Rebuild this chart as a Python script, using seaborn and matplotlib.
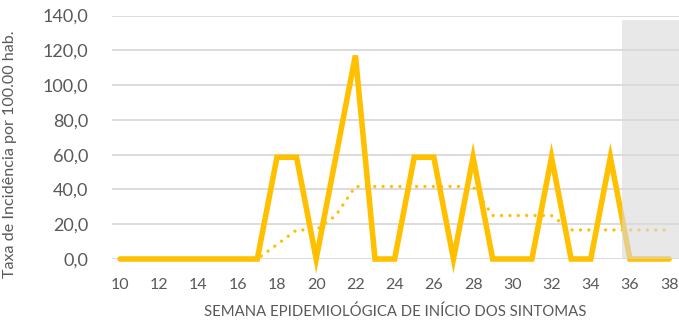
import matplotlib
matplotlib.use("Agg")
import matplotlib.pyplot as plt
import matplotlib.ticker as mticker
import pandas as pd
import seaborn as sns

# Incidence rate per epidemiological week of symptom onset
semanas = list(range(10, 39))
taxa = [0, 0, 0, 0, 0, 0, 0, 0,          # 10-17
        58.5, 58.5, 0, 58.5, 117.0,       # 18-22
        0, 0, 58.5, 58.5, 0, 58.5,        # 23-28
        0, 0, 0, 58.5, 0, 0, 58.5,        # 29-35
        0, 0, 0]                          # 36-38
# Trend series (dotted)
tendencia = [0, 0, 0, 0, 0, 0, 0, 0,
             8.3, 16.7, 16.7, 25.0, 41.7,
             41.7, 41.7, 41.7, 41.7, 41.7, 41.7,
             25.0, 25.0, 25.0, 25.0, 16.7, 16.7, 16.7,
             16.7, 16.7, 16.7]
yticks = [0, 20, 40, 60, 80, 100, 120, 140]
xticks = list(range(10, 39, 2))

df = pd.DataFrame({"semana": semanas, "taxa": taxa, "tendencia": tendencia})

sns.set_theme(style="white")
plt.rcParams["font.family"] = ["Lato", "DejaVu Sans"]

fig = plt.figure(figsize=(6.79, 3.25), dpi=100)
ax = fig.add_axes([112 / 679, 1 - 259 / 325, (679 - 112) / 679, (259 - 15.5) / 325])

amarelo = "#FFC000"
sns.lineplot(data=df, x="semana", y="tendencia", ax=ax, color=amarelo,
             linewidth=2.4, clip_on=False)
sns.lineplot(data=df, x="semana", y="taxa", ax=ax, color=amarelo,
             linewidth=4.0, clip_on=False)
linha_tend, linha_taxa = ax.get_lines()[:2]
linha_tend.set_linestyle((0, (0.01, 2.5)))
linha_tend.set_dash_capstyle("round")
linha_taxa.set_solid_capstyle("round")
linha_taxa.set_solid_joinstyle("miter")

# Shaded period of incomplete notification
ax.axvspan(35.6, 38.6, ymin=0, ymax=137.7 / 140, facecolor="#D9D9D9",
           alpha=0.6, edgecolor="none", zorder=5, clip_on=False)

ax.set_xlim(9.59, 38.5)
ax.set_ylim(0, 140)
ax.set_yticks(yticks)
ax.set_xticks(xticks)
ax.yaxis.set_major_formatter(mticker.FuncFormatter(lambda v, p: f"{v:.1f}".replace(".", ",")))
ax.grid(axis="y", color="#D9D9D9", linewidth=1.3, zorder=0)
ax.set_axisbelow(True)
for s in ax.spines.values():
    s.set_visible(False)
ax.tick_params(axis="y", labelsize=13, colors="#595959", length=0, pad=17)
ax.tick_params(axis="x", labelsize=11.5, colors="#595959", length=0, pad=13.5)

ax.set_xlabel("SEMANA EPIDEMIOLÓGICA DE INÍCIO DOS SINTOMAS", fontsize=10.7,
              color="#595959", va="top")
ax.xaxis.set_label_coords(0.5, -(305 - 259) / 243.5)
ax.set_ylabel("Taxa de Incidência por 100.00 hab.", fontsize=11.6,
              color="#595959")
ax.yaxis.set_label_coords(-(112 - 17) / 567, (259 - 154) / 243.5)

fig.savefig("out.png", dpi=100)
